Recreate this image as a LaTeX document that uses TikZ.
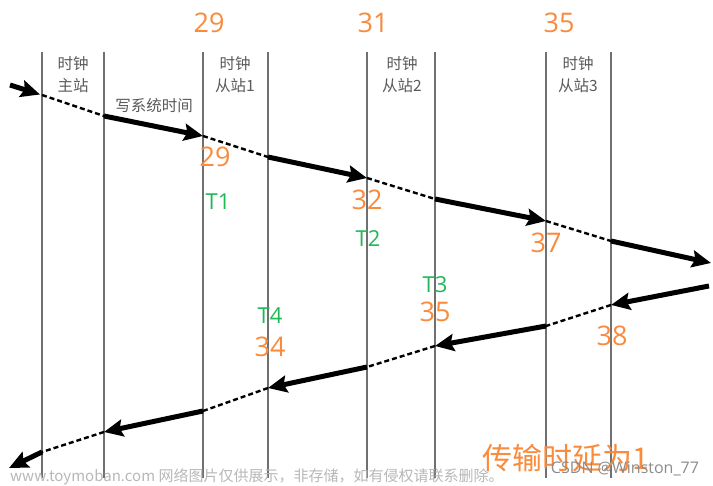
\documentclass[tikz,border=0pt]{standalone}
\usepackage{fontspec}
\setmainfont{Open Sans}
\newfontfamily\cjk{Noto Sans CJK SC}
\usetikzlibrary{arrows.meta}
\definecolor{numorange}{HTML}{FA8A3C}
\definecolor{tgreen}{HTML}{1FB857}
\definecolor{headgray}{HTML}{5A5A5A}
\definecolor{vline}{HTML}{707070}
\tikzset{
  vl/.style={draw=vline, line width=1.5pt},
  head/.style={text=headgray, font=\cjk\fontsize{15.5}{22}\selectfont, align=center, inner sep=0pt},
  num/.style={text=numorange, font=\fontsize{27}{27}\selectfont, inner sep=0pt},
  tlab/.style={text=tgreen, font=\fontsize{22}{22}\selectfont, inner sep=0pt},
  thickarr/.style={line width=5pt, -{Stealth[length=19pt,width=17pt,inset=3pt]}},
  dashseg/.style={line width=2.4pt, dash pattern=on 5pt off 3pt},
}
\begin{document}
\begin{tikzpicture}[x=1pt,y=-1pt]
\useasboundingbox[fill=white] (0,0) rectangle (713,486);
% vertical lines
\foreach \n/\x in {a/42,b/104,c/203,d/268,e/367,f/435,g/546,h/611}{
  \coordinate (\n top) at (\x,52);
  \coordinate (\n bot) at (\x,478);
  \draw[vl] (\n top) -- (\n bot);
}
% headers
\node[head] (h0) at (73,75) {时钟\\主站};
\node[head] (h1) at (235,75) {时钟\\从站1};
\node[head] (h2) at (402,75) {时钟\\从站2};
\node[head] (h3) at (578,75) {时钟\\从站3};
\node[text=headgray, font=\cjk\fontsize{15.5}{15.5}\selectfont, inner sep=0pt] (wr) at (154,106) {写系统时间};
% top numbers
\node[num] (t29) at (209,23) {29};
\node[num] (t31) at (373,23) {31};
\node[num] (t35) at (559,23) {35};
% forward path coordinates
\coordinate (s0) at (10,85);
\coordinate (f0) at (40,94.5);
\coordinate (f1) at (42,95);
\coordinate (f2) at (104,116);
\coordinate (f3) at (203,136);
\coordinate (f4) at (268,157);
\coordinate (f5) at (367,178);
\coordinate (f6) at (435,199);
\coordinate (f7) at (546,221);
\coordinate (f8) at (611,241);
\coordinate (f9) at (711,263);
\draw[thickarr] (s0) -- (f0);
\draw[dashseg] (f1) -- (f2);
\draw[thickarr] (f2) -- (f3);
\draw[dashseg] (f3) -- (f4);
\draw[thickarr] (f4) -- (f5);
\draw[dashseg] (f5) -- (f6);
\draw[thickarr] (f6) -- (f7);
\draw[dashseg] (f7) -- (f8);
\draw[thickarr] (f8) -- (f9);
% return path
\coordinate (r0) at (709,286);
\coordinate (r1) at (611,305);
\coordinate (r2) at (546,326);
\coordinate (r3) at (435,346);
\coordinate (r4) at (367,367);
\coordinate (r5) at (268,388);
\coordinate (r6) at (203,411);
\coordinate (r7) at (104,432);
\coordinate (r8) at (42,452);
\coordinate (r9) at (9,468);
\draw[thickarr] (r0) -- (r1);
\draw[dashseg] (r1) -- (r2);
\draw[thickarr] (r2) -- (r3);
\draw[dashseg] (r3) -- (r4);
\draw[thickarr] (r4) -- (r5);
\draw[dashseg] (r5) -- (r6);
\draw[thickarr] (r6) -- (r7);
\draw[dashseg] (r7) -- (r8);
\draw[thickarr] (r8) -- (r9);
% intersection labels
\node[num] (n29) at (215,157) {29};
\node[tlab] (T1) at (218,202) {T1};
\node[num] (n32) at (367,200) {32};
\node[tlab] (T2) at (368,239) {T2};
\node[num] (n37) at (546,243) {37};
\node[tlab] (T3) at (435,285) {T3};
\node[num] (n35) at (435,312) {35};
\node[num] (n38) at (612,336) {38};
\node[tlab] (T4) at (270,316) {T4};
\node[num] (n34) at (270,347) {34};
% caption
\node[text=numorange, font=\cjk\fontsize{30}{30}\selectfont, inner sep=0pt] (cap) at (566,458) {传输时延为1};
% watermarks
\node[text=black!28, font=\cjk\fontsize{15}{15}\selectfont, inner sep=0pt, anchor=west] (wm) at (10,477) {www.toymoban.com 网络图片仅供展示，非存储，如有侵权请联系删除。};
\node[text=black!45, font=\fontsize{16}{16}\selectfont, inner sep=0pt] (csdn) at (625,469) {CSDN @Winston\_77};
\end{tikzpicture}
\end{document}
